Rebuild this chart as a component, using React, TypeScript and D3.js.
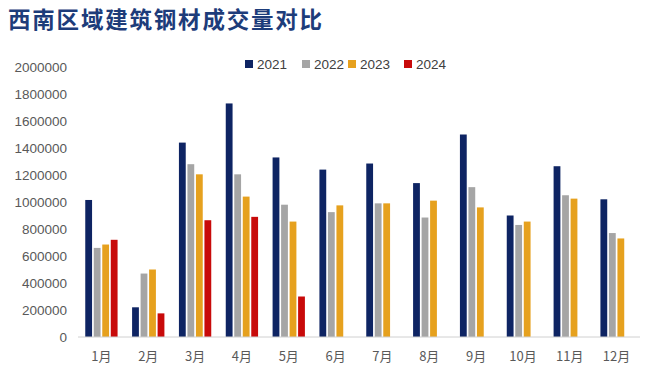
import React from "react";
import * as d3 from "d3";

const months = ["1月", "2月", "3月", "4月", "5月", "6月", "7月", "8月", "9月", "10月", "11月", "12月"];
const seriesNames = ["2021", "2022", "2023", "2024"];
const colors = ["#0E2463", "#A5A5A5", "#E6A11E", "#C80A0A"];
const v2021 = [1015000, 220000, 1440000, 1730000, 1330000, 1240000, 1285000, 1140000, 1500000, 900000, 1265000, 1020000];
const v2022 = [660000, 470000, 1280000, 1205000, 980000, 925000, 990000, 885000, 1110000, 830000, 1050000, 770000];
const v2023 = [685000, 500000, 1205000, 1040000, 855000, 975000, 990000, 1010000, 960000, 855000, 1025000, 730000];
const v2024: (number | null)[] = [720000, 175000, 865000, 890000, 300000, null, null, null, null, null, null, null];
const yTicks = [0, 200000, 400000, 600000, 800000, 1000000, 1200000, 1400000, 1600000, 1800000, 2000000];
const title = "西南区域建筑钢材成交量对比";

export default function App() {
  const W = 660, H = 376;
  const allSeries = [v2021, v2022, v2023, v2024];
  const x0 = d3.scaleBand<string>().domain(months).range([78, 640]).paddingInner(0.31).paddingOuter(0.155);
  const x1 = d3.scaleBand<string>().domain(seriesNames).range([0, x0.bandwidth()]).paddingInner(0.2);
  const y = d3.scaleLinear().domain([0, 2000000]).range([337, 67]);
  const legendX = [245, 302, 348, 404];
  const font = "'Liberation Sans', Arial, sans-serif";
  return (
    <svg width={W} height={H} style={{ position: "absolute", left: 0, top: 0, background: "#fff" }}>
      <text x={8} y={28} fontFamily="'Noto Sans CJK SC'" fontWeight={700} fontSize={22.5} fill="#1D3C7A" letterSpacing={1.8}>
        {title}
      </text>
      {seriesNames.map((s, i) => (
        <g key={s}>
          <rect x={legendX[i]} y={60} width={8} height={8} fill={colors[i]} />
          <text x={legendX[i] + 12} y={64} dy="0.35em" fontFamily={font} fontSize={13.5} fill="#404040">{s}</text>
        </g>
      ))}
      {yTicks.map((t) => (
        <text key={t} x={67} y={y(t)} dy="0.35em" textAnchor="end" fontFamily={font} fontSize={13.5} fill="#595959">
          {t}
        </text>
      ))}
      {months.map((m, mi) => (
        <g key={m} transform={`translate(${x0(m)},0)`}>
          {allSeries.map((arr, si) => {
            const v = arr[mi];
            if (v == null) return null;
            return (
              <rect key={si} x={x1(seriesNames[si])} y={y(v)} width={x1.bandwidth()} height={y(0) - y(v)} fill={colors[si]} />
            );
          })}
          <text x={x0.bandwidth() / 2} y={356} dy="0.35em" textAnchor="middle" fontFamily="'Noto Sans CJK SC'" fontSize={13} fill="#595959">
            {m}
          </text>
        </g>
      ))}
      <line x1={78} x2={640} y1={337} y2={337} stroke="#D0D0D0" strokeWidth={1} />
    </svg>
  );
}
